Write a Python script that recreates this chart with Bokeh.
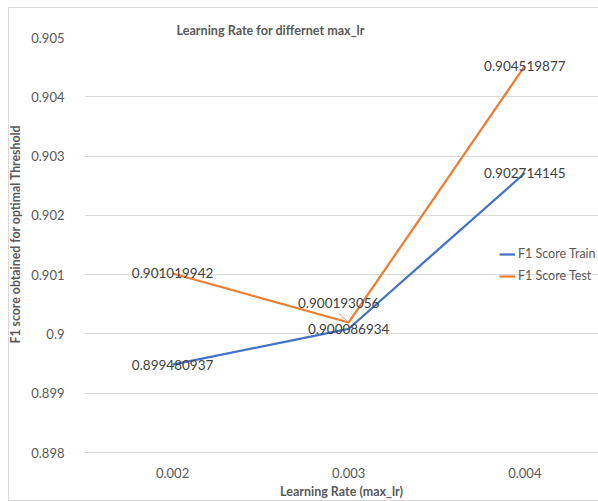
from bokeh.plotting import figure
from bokeh.models import Legend, LegendItem, FixedTicker, ColumnDataSource, InlineStyleSheet, Title
from bokeh.embed import file_html
from bokeh.resources import INLINE
from bokeh.core.properties import value

categories = ["0.002", "0.003", "0.004"]
f1_train = [0.899480937, 0.900086934, 0.902714145]
f1_test = [0.901019942, 0.900193056, 0.904519877]
y_ticks = [0.898, 0.899, 0.900, 0.901, 0.902, 0.903, 0.904, 0.905]
y_tick_labels = ["0.898", "0.899", "0.9", "0.901", "0.902", "0.903", "0.904", "0.905"]
train_labels = ["0.899480937", "0.900086934", "0.902714145"]
test_labels = ["0.901019942", "0.900193056", "0.904519877"]

FONT = "Lato"
xs = [i + 1 for i in range(len(categories))]

PX_X = 177.5      # px per category
PX_Y = 59286.0    # px per unit of y
FRAME_W = 518
Y0, Y1 = 0.898, 0.905

border_css = InlineStyleSheet(css="""
:host { overflow: hidden; }
:host::after {
  content: ""; position: absolute; left: 8px; top: 7px;
  width: 800px; height: 494px; box-sizing: border-box;
  border: 1px solid #d9d9d9; pointer-events: none;
}
""")

p = figure(width=598, height=501,
           output_backend="svg", toolbar_location=None,
           x_range=(0.5, 0.5 + FRAME_W / PX_X), y_range=(Y0, Y1),
           min_border_left=80, min_border_right=0, min_border_top=37, min_border_bottom=49,
           background_fill_color="white", border_fill_color="white",
           stylesheets=[border_css])
p.outline_line_color = None

p.title.text = "Learning Rate  for differnet max_lr"
p.title.align = "left"
p.title.offset = 92
p.title.text_font = FONT
p.title.text_font_size = "12.6px"
p.title.text_font_style = "bold"
p.title.text_color = "#595959"
p.title.text_line_height = 1.0
p.title.standoff = 0

# axes
p.xaxis.ticker = FixedTicker(ticks=xs)
p.xaxis.major_label_overrides = {x: c for x, c in zip(xs, categories)}
p.xaxis.axis_label = "Learning Rate (max_lr)"
p.xaxis.axis_line_color = "#d9d9d9"
p.xaxis.major_tick_line_color = None
p.xaxis.minor_tick_line_color = None
p.xaxis.major_label_standoff = 9
p.xaxis.axis_label_standoff = 3

p.yaxis.ticker = FixedTicker(ticks=y_ticks)
p.yaxis.major_label_overrides = {t: l for t, l in zip(y_ticks, y_tick_labels)}
p.yaxis.axis_line_color = None
p.yaxis.major_tick_line_color = None
p.yaxis.minor_tick_line_color = None
p.yaxis.major_label_standoff = 14

for ax in (p.xaxis, p.yaxis):
    ax.major_label_text_font = FONT
    ax.major_label_text_font_size = "13px"
    ax.major_label_text_color = "#595959"
    ax.axis_label_text_font = FONT
    ax.axis_label_text_font_size = "12.5px"
    ax.axis_label_text_font_style = "bold"
    ax.axis_label_text_color = "#595959"

# y-axis title, as a side title placed like the reference (slightly above frame centre)
p.add_layout(Title(text="F1 score obtained for optimal Threshold", align="left", offset=109,
                   text_font=FONT, text_font_size="12.3px", text_font_style="bold",
                   text_color="#595959", standoff=11), "left")

p.xgrid.grid_line_color = None
p.ygrid.ticker = FixedTicker(ticks=y_ticks)
p.ygrid.grid_line_color = "#d9d9d9"
p.ygrid.grid_line_width = 1

r_train = p.line(xs, f1_train, line_color="#4472C4", line_width=2.25)
r_test = p.line(xs, f1_test, line_color="#ED7D31", line_width=2.25)

# leader line for the shifted test label at the middle point
mid = 1
lx0 = xs[mid] + (-10) / PX_X
ly0 = f1_test[mid] + 9 / PX_Y
lx1 = xs[mid] + (-1) / PX_X
ly1 = f1_test[mid] + 1 / PX_Y
p.segment(x0=[lx0], y0=[ly0], x1=[lx1], y1=[ly1], line_color="#a6a6a6", line_width=1)

test_xoff = [0, -10, 0]
test_yoff = [0, -19, 0]
src_lbl = ColumnDataSource(dict(
    x=xs + xs,
    y=f1_train + f1_test,
    t=train_labels + test_labels,
    xo=[0, 0, 0] + test_xoff,
    yo=[0, 0, 0] + test_yoff,
))
p.text(x="x", y="y", text="t", x_offset="xo", y_offset="yo", source=src_lbl,
       text_align="center", text_baseline="middle",
       text_font=value(FONT), text_font_size="13.5px", text_color="#404040")

legend = Legend(items=[LegendItem(label="F1 Score Train", renderers=[r_train]),
                       LegendItem(label="F1 Score Test", renderers=[r_test])],
                location=(415, 169))
legend.background_fill_alpha = 0
legend.border_line_color = None
legend.padding = 0
legend.margin = 0
legend.spacing = 7
legend.glyph_width = 16
legend.glyph_height = 14
legend.label_height = 14
legend.label_standoff = 3
legend.label_text_font = FONT
legend.label_text_font_size = "12.5px"
legend.label_text_color = "#595959"
p.add_layout(legend, "center")

open("out.html", "w").write(file_html(p, INLINE))
